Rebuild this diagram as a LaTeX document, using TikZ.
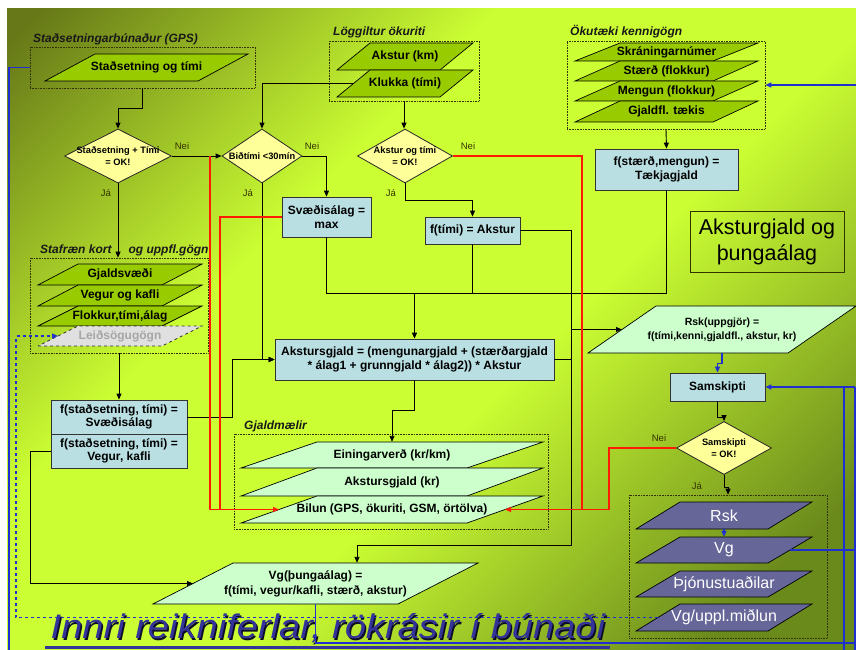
\documentclass[tikz,border=0pt]{standalone}
\usepackage{fontspec}
\setmainfont{Liberation Sans}
\usetikzlibrary{shapes.geometric,arrows.meta,calc}
\definecolor{bgA}{HTML}{667818}
\definecolor{bgB}{HTML}{CCFF33}
\definecolor{bgC}{HTML}{6B8A1C}
\definecolor{pgreen}{HTML}{99CC00}
\definecolor{lblue}{HTML}{B9DFE3}
\definecolor{lgreen}{HTML}{CCFFCC}
\definecolor{dyel}{HTML}{FFFF99}
\definecolor{purp}{HTML}{666699}
\definecolor{lnblue}{HTML}{1F30D0}
\definecolor{ttlblue}{HTML}{333399}
\definecolor{lbl}{HTML}{333300}
\definecolor{redl}{HTML}{FF1A00}
\pgfdeclarehorizontalshading{bgsh}{100bp}{color(0bp)=(bgA); color(16bp)=(bgA); color(38bp)=(bgB); color(56bp)=(bgB); color(78bp)=(bgC); color(100bp)=(bgC)}
\tikzset{
 rb/.style={draw=black!80, line width=0.8pt, fill=lblue, inner sep=1pt, align=center, font=\fontsize{12}{13.5}\selectfont\bfseries},
 grp/.style={draw=lbl, densely dotted, line width=0.6pt, inner sep=0},
 grptitle/.style={font=\fontsize{12}{13}\selectfont\bfseries\itshape, anchor=west, inner sep=0, text=black!90},
 dia/.style={diamond, draw=black!85, line width=0.8pt, fill=dyel, inner sep=0, aspect=2},
 diatxt/.style={font=\fontsize{9.3}{11.5}\selectfont\bfseries, align=center, inner sep=0},
 yn/.style={font=\fontsize{9.5}{11}\selectfont, text=lbl, inner sep=0},
 arr/.style={-{Triangle[length=6pt,width=5pt]}},
 con/.style={draw=black, line width=0.9pt},
 redc/.style={draw=redl, line width=1.1pt},
 bluec/.style={draw=lnblue, line width=1.2pt},
 ttl/.style={draw=lbl, line width=0.9pt, align=center, font=\fontsize{21.5}{26}\selectfont, inner sep=0},
 pg/.style={draw=black, line width=0.7pt, fill=pgreen},
 pg txt/.style={font=\fontsize{12}{13.5}\selectfont\bfseries, align=center},
 lg/.style={draw=black, line width=0.7pt, fill=lgreen},
 lg txt/.style={font=\fontsize{12}{13.5}\selectfont\bfseries, align=center},
 lgv/.style={lg},
 lgv txt/.style={font=\fontsize{12}{15}\selectfont\bfseries, align=center},
 lgs/.style={lg},
 lgs txt/.style={font=\fontsize{10.5}{14}\selectfont\bfseries, align=center},
 pu/.style={draw=black, line width=0.7pt, fill=purp},
 pu txt/.style={font=\fontsize{16}{18}\selectfont, text=white, align=center},
 ld/.style={draw=black!80, dashed, line width=0.7pt, fill=black!12},
 ld txt/.style={font=\fontsize{12}{13.5}\selectfont\bfseries, text=black!35, align=center},
 bigt/.style={font=\fontsize{34}{40}\selectfont\itshape\addfontfeature{FakeStretch=1.12}, anchor=base west, inner sep=0},
}
% parallelogram: [style]{name}{x bottom-left}{x bottom-right}{slant}{y top}{y bottom}{text}
\newcommand\plg[8][pg]{%
 \draw[#1] (#3,#7) -- (#4,#7) -- ({#4+#5},#6) -- ({#3+#5},#6) -- cycle;
 \node[#1 txt, inner sep=0, minimum width={#4-#3+#5}, minimum height={#7-#6}] (#2) at ({(#3+#4+#5)/2},{(#6+#7)/2}) {#8};
 \coordinate (#2 l) at ({#3+#5/2},{(#6+#7)/2});
 \coordinate (#2 r) at ({#4+#5/2},{(#6+#7)/2});
}
% rectangle node: [style]{name}{x1}{y1}{x2}{y2}{text}
\newcommand\rbox[7][rb]{%
 \node[#1, minimum width={#5-#3}, minimum height={#6-#4}] (#2) at ({(#3+#5)/2},{(#4+#6)/2}) {#7};
}
\begin{document}
\begin{tikzpicture}[x=1pt,y=-1pt]
\useasboundingbox (0,0) rectangle (856,650);
\fill[white] (0,0) rectangle (856,650);
\shade[shading=bgsh, shading angle=-45] (7,9) rectangle (856,650);

% bottom title
\node[bigt, text=black!75!ttlblue] (ttlsh) at (52,640) {Innri reikniferlar, rökrásir í búnaði};
\node[bigt, text=ttlblue] (ttlmain) at (50.5,638.5) {Innri reikniferlar, rökrásir í búnaði};
\draw[ttlblue, line width=3pt] (45,647.5) -- (610,647.5);

% GPS
\node[grptitle] (t1) at (33,39) {Staðsetningarbúnaður (GPS)};
\rbox[grp]{gps}{30}{47}{255}{88}{}
\plg[pg]{sot}{45}{198}{50}{54}{81}{Staðsetning og tími}

% Löggiltur ökuriti
\node[grptitle] (t2) at (333,32) {Löggiltur ökuriti};
\rbox[grp]{lok}{329}{41}{479}{101}{}
\plg[pg]{akm}{337}{440}{33}{43}{70}{Akstur (km)}
\plg[pg]{klk}{337}{440}{33}{70}{97}{Klukka (tími)}

% Ökutæki kennigögn
\node[grptitle] (t3) at (570,32) {Ökutæki kennigögn};
\rbox[grp]{okt}{567}{41}{765}{129}{}
\plg[pg]{skr}{575}{713}{45}{43}{61}{Skráningarnúmer}
\plg[pg]{stf}{575}{713}{45}{61}{81}{Stærð (flokkur)}
\plg[pg]{mfl}{575}{713}{45}{81}{101}{Mengun (flokkur)}
\plg[pg]{gjt}{575}{713}{45}{101}{122}{Gjaldfl. tækis}
\rbox{tk}{595}{149}{738}{190}{f(stærð,mengun) =\\Tækjagjald}

% diamonds
\node[dia, minimum width=107, minimum height=54] (d1) at (118,156) {};
\node[diatxt] (d1t) at (d1) {Staðsetning + Tími\\= OK!};
\node[dia, minimum width=80, minimum height=54] (d2) at (262,156) {};
\node[diatxt] (d2t) at (d2) {Biðtími <30mín};
\node[dia, minimum width=95, minimum height=54] (d3) at (405,156) {};
\node[diatxt] (d3t) at (d3) {Akstur og tími\\= OK!};
\node[dia, minimum width=95, minimum height=53] (d4) at (724,448) {};
\node[diatxt] (d4t) at (d4) {Samskipti\\= OK!};

% yes / no
\node[yn] (n1) at (182,146) {Nei};
\node[yn] (y1) at (106,193) {Já};
\node[yn] (n2) at (312,146) {Nei};
\node[yn] (y2) at (248,193) {Já};
\node[yn] (n3) at (468,146) {Nei};
\node[yn] (y3) at (391,193) {Já};
\node[yn] (n4) at (659,438) {Nei};
\node[yn] (y4) at (697,486) {Já};

% process boxes
\rbox{svmax}{282}{197}{371}{237}{Svæðisálag =\\max}
\rbox{fakst}{425}{217}{520}{244}{f(tími) = Akstur}
\rbox[rb,font=\fontsize{12}{14.5}\selectfont\bfseries]{ag}{275}{339}{554}{380}{Akstursgjald = (mengunargjald + (stærðargjald\\* álag1 + grunngjald * álag2)) * Akstur}
\rbox{fsv}{51}{400}{187}{434}{f(staðsetning, tími) =\\Svæðisálag}
\rbox{fvk}{51}{434}{187}{468}{f(staðsetning, tími) =\\Vegur, kafli}
\rbox{sam}{670}{373}{765}{401}{Samskipti}
\rbox[ttl]{ttlbox}{690}{211}{844}{272}{Aksturgjald og\\þungaálag}

% Stafræn kort
\node[grptitle] (t4) at (40,250) {Stafræn kort\hspace{17pt}og uppfl.gögn};
\rbox[grp]{sk}{30}{258}{208}{353}{}
\plg[pg]{gsv}{38}{162}{40}{264}{285}{Gjaldsvæði}
\plg[pg]{vok}{38}{162}{40}{285}{306}{Vegur og kafli}
\plg[pg]{fta}{38}{162}{40}{306}{326}{Flokkur,tími,álag}
\plg[ld]{leid}{38}{162}{40}{326}{346}{Leiðsögugögn}

% Gjaldmælir
\node[grptitle] (t5) at (244,426) {Gjaldmælir};
\rbox[grp]{gm}{234}{434}{548}{529}{}
\plg[lg]{ein}{241}{467}{76}{442}{468}{Einingarverð (kr/km)}
\plg[lg]{agk}{241}{467}{76}{468}{496}{Akstursgjald (kr)}
\plg[lg]{bil}{241}{467}{76}{496}{523}{Bilun (GPS, ökuriti, GSM, örtölva)}

% outputs
\plg[lgv]{vgt}{153}{398}{80}{563}{604}{Vg(þungaálag) =\\f(tími, vegur/kafli, stærð, akstur)}
\plg[lgs]{rsk}{588}{788}{68}{306}{353}{Rsk(uppgjör) =\\f(tími,kenni,gjaldfl., akstur, kr)}

% purple group
\rbox[grp]{pgrp}{629}{495}{827}{638}{}
\plg[pu]{prsk}{636}{768}{44}{502}{529}{Rsk}
\plg[pu]{pvg}{636}{768}{44}{537}{563}{Vg}
\plg[pu]{pthj}{636}{768}{44}{571}{597}{Þjónustuaðilar}
\plg[pu]{pvm}{636}{768}{44}{604}{631}{Vg/uppl.miðlun}

% black connectors
\draw[con,arr] (gps.south) |- (118,108) -- (d1.north);
\draw[con,arr] (d1.east) -- (d2.west);
\draw[con,arr] (klk l) -| (d2.north);
\draw[con,arr] (d2.east) -| (svmax.north);
\draw[con,arr] (lok.south) -- (lok.south |- d3.north);
\draw[con,arr] (d3.south) -- ++(0,17) -| (fakst.north);
\draw[con,arr] (d1.south) -- (d1.south |- sk.north);
\draw[con,arr] (sk.south) -- (fsv.north);
\draw[con,arr] (okt.south) -- (tk.north);
\coordinate (j1) at (414.5,293);
\draw[con] (svmax.south) |- (j1);
\draw[con] (fakst.south) |- (j1);
\draw[con] (tk.south) |- (j1);
\draw[con,arr,line width=1.4pt] (j1) -- (ag.north);
\draw[con,arr] (d2.south) |- (ag.west);
\draw[con,arr] (fsv.east) -| (232,359.5) -- (ag.west);
\draw[con,arr] (ag.south) -- ++(0,30) -| (ein.north);
\draw[con,arr] (ag.east) -| (571,329.5) -- (rsk l);
\draw[con,arr] (fakst.east) -| (571,545) -| ([xshift=41.5pt]vgt.north);
\draw[con,arr] (fvk.west) -- (30,451) |- (vgt l);
\draw[con,arr] (sam.south) -- ++(0,16) -| (d4.north);
\draw[con,arr] (d4.south) -- ++(0,13) -| (pgrp.north);

% red connectors
\coordinate (rn1) at (210,156);
\draw[redc,arr] (rn1) |- (bil l);
\draw[redc] (svmax.west) -| (220,509.5);
\draw[redc] (d3.east) -| (582,509.5);
\draw[redc,arr] (d4.west) -| (609,509.5) -- (bil r);

% blue connectors
\coordinate (eok) at (856,85);
\coordinate (esam) at (855,387);
\draw[bluec] (gps.west) -- (9,67.5) -- (9,650);
\draw[bluec,arr] (eok) -- (okt.east);
\draw[bluec,arr] (esam) -- (sam.east);
\draw[bluec] (844,387) -- (844,650);
\draw[bluec] (esam) -- (855,650);
\draw[bluec] (pvg r) -- (856,550);
\draw[bluec] (vgt.south) |- (856,643);
\draw[bluec,arr] (rsk.south) -- ++(0,10) -| (sam.north);
\draw[bluec,arr] (prsk.south) -- (pvg.north);
\draw[bluec,dashed,arr] (pvm l) -- (16,617.5) |- (leid l);
\end{tikzpicture}
\end{document}
